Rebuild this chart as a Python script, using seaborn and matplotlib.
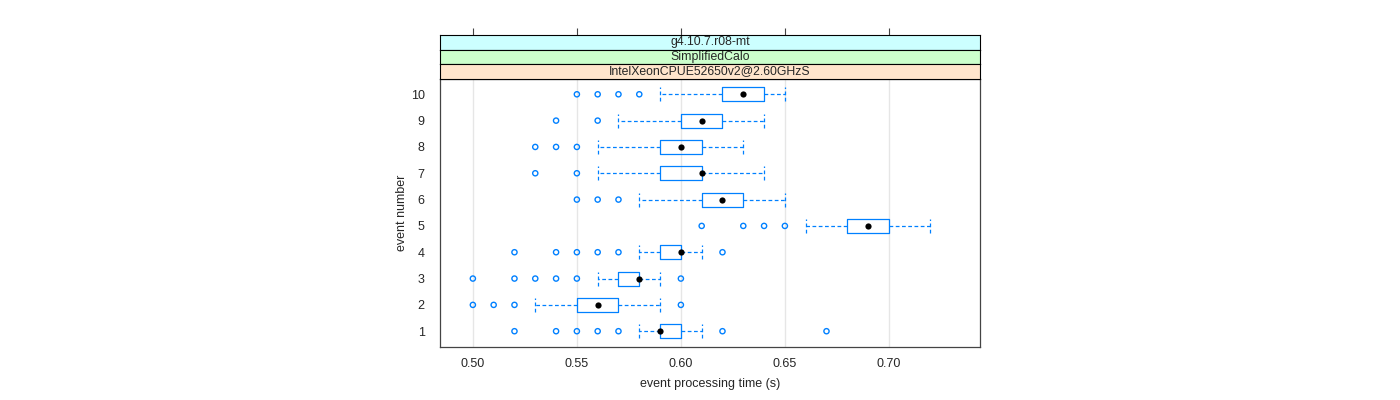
import numpy as np
import pandas as pd
import matplotlib
matplotlib.use("Agg")
import matplotlib.pyplot as plt
import seaborn as sns

# summary statistics (seconds)
events = [1, 2, 3, 4, 5, 6, 7, 8, 9, 10]
whisk_lo = [0.58, 0.53, 0.56, 0.58, 0.66, 0.58, 0.56, 0.56, 0.57, 0.59]
q1 = [0.59, 0.55, 0.57, 0.59, 0.68, 0.61, 0.59, 0.59, 0.60, 0.62]
median = [0.59, 0.56, 0.58, 0.60, 0.69, 0.62, 0.61, 0.60, 0.61, 0.63]
q3 = [0.60, 0.57, 0.58, 0.60, 0.70, 0.63, 0.61, 0.61, 0.62, 0.64]
whisk_hi = [0.61, 0.59, 0.59, 0.61, 0.72, 0.65, 0.64, 0.63, 0.64, 0.65]
outliers = [
    [0.52, 0.54, 0.55, 0.56, 0.57, 0.62, 0.67],
    [0.50, 0.51, 0.52, 0.60],
    [0.50, 0.52, 0.53, 0.54, 0.55, 0.60],
    [0.52, 0.54, 0.55, 0.56, 0.57, 0.62],
    [0.61, 0.63, 0.64, 0.65],
    [0.55, 0.56, 0.57],
    [0.53, 0.55],
    [0.53, 0.54, 0.55],
    [0.54, 0.56],
    [0.55, 0.56, 0.57, 0.58],
]
strips = ["g4.10.7.r08-mt", "SimplifiedCalo", "IntelXeonCPUE52650v2@2.60GHzS"]
strip_colors = ["#ccffff", "#ccffcc", "#ffe5cc"]
xticks = [0.50, 0.55, 0.60, 0.65, 0.70]

sns.set_style("white")
plt.rcParams["font.family"] = ["Liberation Sans", "DejaVu Sans"]
plt.rcParams["font.size"] = 9

blue = "#0080ff"
fig = plt.figure(figsize=(14, 4), dpi=100)
ax = fig.add_axes([440 / 1400, 1 - 347 / 400, 540 / 1400, (347 - 78.5) / 400])

stats = []
for i in range(len(events)):
    stats.append(dict(med=median[i], q1=q1[i], q3=q3[i],
                      whislo=whisk_lo[i], whishi=whisk_hi[i], fliers=[]))
ax.bxp(stats, positions=events, widths=0.53, vert=False, showfliers=False,
       capwidths=0.53, patch_artist=False,
       boxprops=dict(color=blue, linewidth=0.9),
       whiskerprops=dict(color=blue, linewidth=0.9, linestyle=(0, (3, 2))),
       capprops=dict(color=blue, linewidth=0.9, linestyle=(0, (3, 2))),
       medianprops=dict(visible=False))

fl = pd.DataFrame([(v, e) for e, vals in zip(events, outliers) for v in vals],
                  columns=["time", "event"])
sns.scatterplot(data=fl, x="time", y="event", ax=ax, marker="o",
                facecolor="none", edgecolor=blue, linewidth=1.0, s=14, zorder=3)
med = pd.DataFrame({"time": median, "event": events})
sns.scatterplot(data=med, x="time", y="event", ax=ax, color="black",
                s=20, linewidth=0, zorder=4)

ax.set_xlim(0.4842, 0.7438)
ax.set_ylim(0.4, 10.6)
ax.set_xticks(xticks)
ax.set_xticklabels([f"{t:.2f}" for t in xticks])
ax.set_yticks(events)
ax.set_yticklabels([str(e) for e in events])
ax.grid(axis="x", color="#e6e6e6", linewidth=1)
ax.set_axisbelow(True)
ax.tick_params(axis="x", direction="out", length=5, width=0.8, color="#444444", pad=3)
ax.tick_params(axis="y", length=0, pad=11)
for s in ax.spines.values():
    s.set_color("#444444")
    s.set_linewidth(0.9)
ax.set_xlabel("event processing time (s)", fontsize=9, labelpad=6)
ax.set_ylabel("event number", fontsize=9, labelpad=2)

# strips stacked on top of the panel
tops = [34.5, 49.5, 63.8]
for j, (lab, col) in enumerate(zip(strips, strip_colors)):
    y0 = tops[j]
    h = (tops[j + 1] if j < 2 else 78.5) - y0
    sax = fig.add_axes([440 / 1400, 1 - (y0 + h) / 400, 540 / 1400, h / 400])
    sax.set_facecolor(col)
    sax.set_xlim(ax.get_xlim())
    sax.set_yticks([])
    sax.text(0.5, 0.5, lab, ha="center", va="center", transform=sax.transAxes, fontsize=8.8)
    for s in sax.spines.values():
        s.set_color("black")
        s.set_linewidth(0.8)
    if j == 0:
        sax.set_xticks(xticks)
        sax.xaxis.tick_top()
        sax.tick_params(axis="x", direction="out", length=5, width=0.8,
                        color="#444444", labeltop=False, labelbottom=False)
    else:
        sax.set_xticks([])

fig.savefig("out.png", dpi=100)
